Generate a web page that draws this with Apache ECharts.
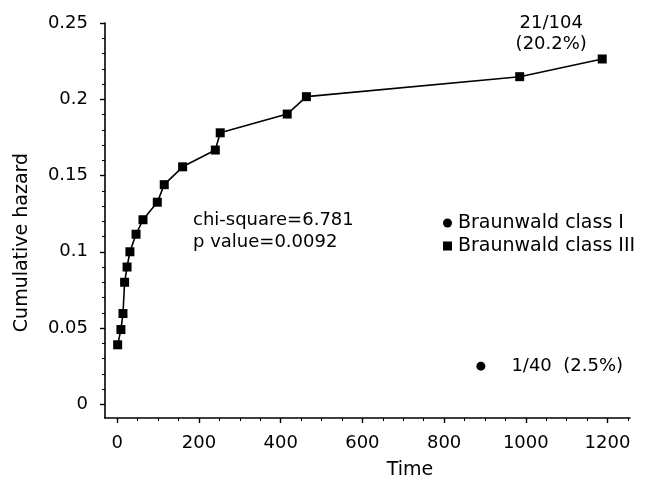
<!DOCTYPE html>
<html>
<head>
<meta charset="utf-8">
<script src="https://cdn.jsdelivr.net/npm/echarts@6/dist/echarts.min.js"></script>
<style>html,body{margin:0;padding:0;background:#fff}#c{width:645px;height:481px}</style>
</head>
<body>
<div id="c"></div>
<script>
// ---- data ----
const classIIITimes  = [1, 9, 14, 18, 24, 31, 46, 63, 98, 115, 160, 240, 252, 416, 463, 985, 1187];
const classIIIHazard = [0.039, 0.049, 0.0595, 0.080, 0.090, 0.100, 0.1115, 0.121, 0.1325, 0.144, 0.1557, 0.1667, 0.178, 0.1903, 0.2017, 0.2148, 0.2264];
const classITimes  = [890];
const classIHazard = [0.025];
const classIIILabel = '21/104\n(20.2%)';
const classILabel = '1/40  (2.5%)';
const seriesNames = ['Braunwald class I', 'Braunwald class III'];
const xTicks = [0, 200, 400, 600, 800, 1000, 1200];
const xTickLabels = ['0', '200', '400', '600', '800', '1000', '1200'];
const xMinorTicks = [0,50,100,150,200,250,300,350,400,450,500,550,600,650,700,750,800,850,900,950,1000,1050,1100,1150,1200,1250];
const yTicks = [0, 0.05, 0.1, 0.15, 0.2, 0.25];
const yTickLabels = ['0', '0.05', '0.1', '0.15', '0.2', '0.25'];
const yMinorTicks = [0,0.01,0.02,0.03,0.04,0.05,0.06,0.07,0.08,0.09,0.1,0.11,0.12,0.13,0.14,0.15,0.16,0.17,0.18,0.19,0.2,0.21,0.22,0.23,0.24,0.25];
const statsText = 'chi-square=6.781\np value=0.0092';

const FONT = 'DejaVu Sans';
const chart = echarts.init(document.getElementById('c'), null, {renderer: 'canvas'});

const classIIIData = classIIITimes.map((t, i) => [t, classIIIHazard[i]]);
const last = classIIIData.length - 1;
classIIIData[last] = {
  value: classIIIData[last],
  label: {
    show: true, formatter: classIIILabel, position: 'top', offset: [-51, 5],
    align: 'center', fontSize: 18, lineHeight: 21, color: '#000', fontFamily: FONT
  }
};
const classIData = classITimes.map((t, i) => [t, classIHazard[i]]);

const pick = (ticks, labels) => v => { const i = ticks.findIndex(t => Math.abs(t - v) < 1e-9); return i >= 0 ? labels[i] : ''; };

const option = {
  animation: false,
  backgroundColor: '#fff',
  grid: {left: 105, right: 15, top: 23, bottom: 63, containLabel: false, outerBoundsMode: 'none'},
  legend: {
    show: true, orient: 'vertical', left: 438, top: 208, selectedMode: false,
    itemWidth: 9, itemHeight: 9, itemGap: 3,
    textStyle: {fontSize: 19, lineHeight: 20, color: '#000', fontFamily: FONT, padding: [0, 0, 0, 1]},
    data: [{name: seriesNames[0], icon: 'circle'}, {name: seriesNames[1], icon: 'rect'}]
  },
  xAxis: [{
    type: 'value', min: -30, max: 1255, position: 'bottom',
    axisLine: {show: true, onZero: false, lineStyle: {color: '#000', width: 1.6}},
    axisTick: {show: true, customValues: xTicks, length: 5, lineStyle: {color: '#000', width: 1.4}},
    axisLabel: {customValues: xTicks, fontSize: 18, color: '#000', fontFamily: FONT, margin: 16,
      formatter: pick(xTicks, xTickLabels)},
    splitLine: {show: false},
    name: 'Time', nameLocation: 'middle', nameGap: 43,
    nameTextStyle: {fontSize: 19, color: '#000', fontFamily: FONT, padding: [0, 0, 0, 85]}
  }, {
    type: 'value', min: -30, max: 1255, position: 'bottom', gridIndex: 0,
    axisLine: {show: false, onZero: false},
    axisTick: {show: true, customValues: xMinorTicks, length: 3, lineStyle: {color: '#000', width: 1}},
    axisLabel: {show: false}, splitLine: {show: false}
  }],
  yAxis: [{
    type: 'value', min: -0.009, max: 0.25, position: 'left',
    axisLine: {show: true, onZero: false, lineStyle: {color: '#000', width: 1.6}},
    axisTick: {show: true, customValues: yTicks, length: 5, lineStyle: {color: '#000', width: 1.4}},
    axisLabel: {customValues: yTicks, fontSize: 18, color: '#000', fontFamily: FONT, margin: 17,
      formatter: pick(yTicks, yTickLabels)},
    splitLine: {show: false},
    name: 'Cumulative hazard', nameLocation: 'middle', nameGap: 73,
    nameTextStyle: {fontSize: 19, color: '#000', fontFamily: FONT, padding: [0, 44, 0, 0]}
  }, {
    type: 'value', min: -0.009, max: 0.25, position: 'left', gridIndex: 0,
    axisLine: {show: false, onZero: false},
    axisTick: {show: true, customValues: yMinorTicks, length: 3, lineStyle: {color: '#000', width: 1}},
    axisLabel: {show: false}, splitLine: {show: false}
  }],
  series: [{
    name: seriesNames[0], type: 'scatter', xAxisIndex: 0, yAxisIndex: 0,
    data: classIData, symbol: 'circle', symbolSize: 9,
    itemStyle: {color: '#000', opacity: 1},
    label: {show: true, formatter: classILabel, position: 'right', distance: 26,
      fontSize: 18, color: '#000', fontFamily: FONT}
  }, {
    name: seriesNames[1], type: 'line', xAxisIndex: 0, yAxisIndex: 0,
    data: classIIIData, symbol: 'rect', symbolSize: 9, showSymbol: true,
    lineStyle: {color: '#000', width: 1.6}, itemStyle: {color: '#000', opacity: 1}
  }],
  graphic: [{
    type: 'text', left: 193, top: 209,
    style: {text: statsText, font: '18px "DejaVu Sans"', lineHeight: 22, fill: '#000'}
  }]
};
chart.setOption(option);
</script>
</body>
</html>
